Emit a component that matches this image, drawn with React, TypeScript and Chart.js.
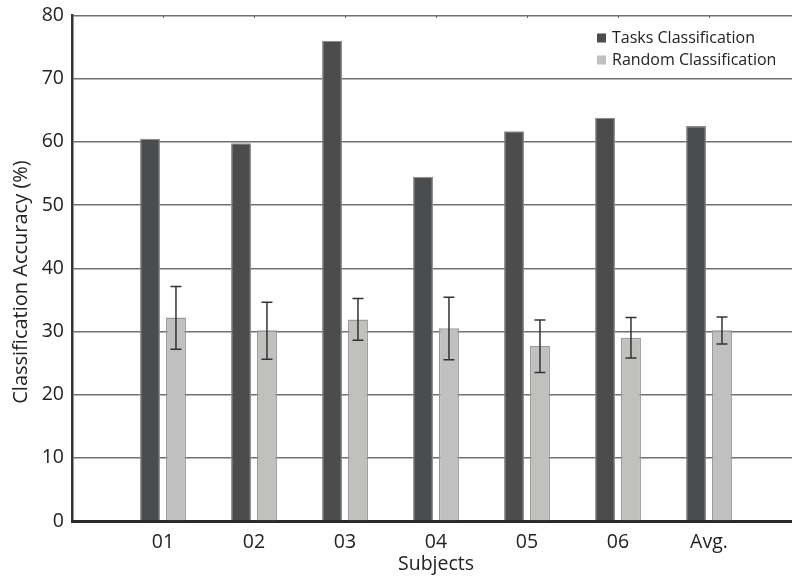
import React, { useEffect, useRef } from "react";
import { Chart, registerables } from "chart.js";

Chart.register(...registerables);

const subjects = ["01", "02", "03", "04", "05", "06", "Avg."];
const tasksAccuracy = [60.5, 59.8, 76.0, 54.5, 61.7, 63.8, 62.5];
const randomAccuracy = [32.2, 30.2, 31.9, 30.5, 27.7, 29.0, 30.2];
const randomErrLow = [27.2, 25.6, 28.6, 25.5, 23.5, 25.8, 28.0];
const randomErrHigh = [37.1, 34.6, 35.2, 35.4, 31.8, 32.2, 32.3];
const yTicks = [0, 10, 20, 30, 40, 50, 60, 70, 80];
const seriesNames = ["Tasks Classification", "Random Classification"];
const yTitle = "Classification Accuracy (%)";
const xTitle = "Subjects";

const FONT = "'Open Sans', 'DejaVu Sans', sans-serif";
const DARK = "#4b4c4e";
const LIGHT = "#c0c0be";

export default function App() {
  const ref = useRef<HTMLCanvasElement | null>(null);

  useEffect(() => {
    document.body.style.overflow = "hidden";
    document.documentElement.style.overflow = "hidden";
    const canvas = ref.current;
    if (!canvas) return;
    const labels = ["", ...subjects, ""];
    const pad = (arr: number[]) => [null, ...arr, null];

    const errorBars = {
      id: "errorBars",
      afterDatasetsDraw(chart: any) {
        const meta = chart.getDatasetMeta(1);
        const ys = chart.scales.y;
        const ctx = chart.ctx;
        ctx.save();
        ctx.strokeStyle = "#333";
        ctx.lineWidth = 1.5;
        subjects.forEach((_, i) => {
          const el = meta.data[i + 1];
          if (!el) return;
          const x = el.x;
          const yt = ys.getPixelForValue(randomErrHigh[i]);
          const yb = ys.getPixelForValue(randomErrLow[i]);
          const cw = 5.5;
          ctx.beginPath();
          ctx.moveTo(x, yt);
          ctx.lineTo(x, yb);
          ctx.moveTo(x - cw, yt);
          ctx.lineTo(x + cw, yt);
          ctx.moveTo(x - cw, yb);
          ctx.lineTo(x + cw, yb);
          ctx.stroke();
        });
        ctx.restore();
      },
    };

    const extras = {
      id: "extras",
      afterDraw(chart: any) {
        const ctx = chart.ctx;
        const xs = chart.scales.x;
        const top = chart.chartArea.top;
        ctx.save();
        ctx.strokeStyle = "#666";
        ctx.lineWidth = 1;
        subjects.forEach((_, i) => {
          const x = Math.round(xs.getPixelForValue(i + 1)) + 0.5;
          ctx.beginPath();
          ctx.moveTo(x, top);
          ctx.lineTo(x, top + 2.5);
          ctx.stroke();
        });
        const items = [
          { name: seriesNames[0], color: DARK, y: 38 },
          { name: seriesNames[1], color: LIGHT, y: 60 },
        ];
        ctx.font = "16px " + FONT;
        ctx.textBaseline = "middle";
        ctx.textAlign = "left";
        items.forEach((it) => {
          ctx.fillStyle = it.color;
          ctx.fillRect(597, it.y - 4.5, 9, 9);
          ctx.fillStyle = "#222";
          ctx.fillText(it.name, 612, it.y);
        });
        // y axis title
        ctx.translate(21, 282);
        ctx.rotate(-Math.PI / 2);
        ctx.font = "20px " + FONT;
        ctx.textAlign = "center";
        ctx.textBaseline = "middle";
        ctx.fillStyle = "#222";
        ctx.fillText(yTitle, 0, 0);
        ctx.restore();
      },
    };

    const chart = new Chart(canvas, {
      type: "bar",
      data: {
        labels,
        datasets: [
          {
            label: seriesNames[0],
            data: pad(tasksAccuracy) as any,
            backgroundColor: DARK,
            borderColor: "#8e8e8e",
            borderWidth: 1.2,
            categoryPercentage: 0.57,
            barPercentage: 0.77,
          },
          {
            label: seriesNames[1],
            data: pad(randomAccuracy) as any,
            backgroundColor: LIGHT,
            borderColor: "#9e9898",
            borderWidth: 1.5,
            categoryPercentage: 0.57,
            barPercentage: 0.77,
          },
        ],
      },
      options: {
        responsive: false,
        animation: false,
        layout: { padding: { top: 15.5, left: 0, right: 0, bottom: 0 } },
        plugins: {
          legend: { display: false },
          tooltip: { enabled: false },
        },
        scales: {
          x: {
            offset: false,
            grid: { display: false, drawTicks: false },
            border: { display: true, color: "#2a2a2a", width: 3 },
            ticks: {
              color: "#222",
              font: { family: FONT, size: 19.5 },
              padding: 10,
              maxRotation: 0,
              autoSkip: false,
            },
            title: {
              display: true,
              text: xTitle,
              color: "#222",
              font: { family: FONT, size: 19.5 },
              padding: { top: 0, bottom: 3 },
            },
            afterFit(scale: any) {
              scale.height = 58;
              scale.paddingLeft = 0;
              scale.paddingRight = 0;
            },
          },
          y: {
            min: 0,
            max: 80,
            afterBuildTicks(scale: any) {
              scale.ticks = yTicks.map((v) => ({ value: v }));
            },
            grid: { color: "#707070", lineWidth: 1.5, drawTicks: false },
            border: { display: true, color: "#333", width: 2.5 },
            ticks: {
              color: "#222",
              font: { family: FONT, size: 19.5 },
              padding: 8,
            },
            title: { display: false },
            afterFit(scale: any) {
              scale.width = 72;
              scale.paddingTop = 0;
              scale.paddingBottom = 0;
            },
          },
        },
      },
      plugins: [errorBars, extras],
    });
    return () => chart.destroy();
  }, []);

  return (
    <div style={{ position: "fixed", left: 0, top: 0, width: 800, height: 579, background: "#fff" }}>
      <canvas ref={ref} width={800} height={579} style={{ display: "block", width: 800, height: 579 }} />
    </div>
  );
}
